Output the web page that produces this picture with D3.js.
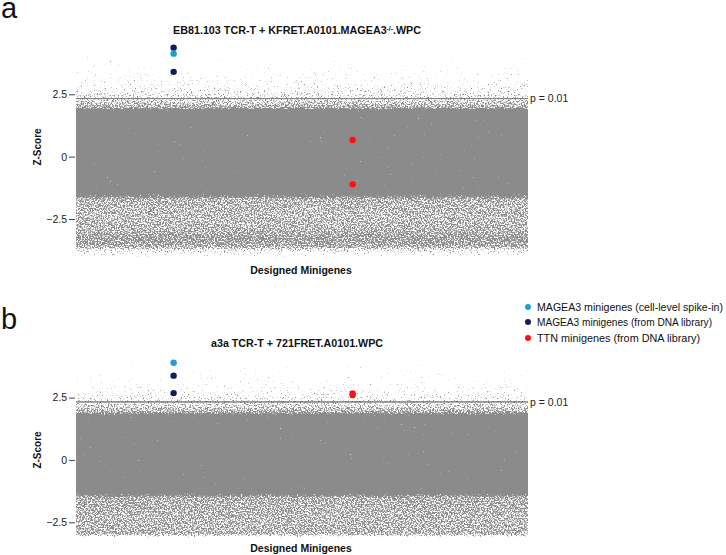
<!DOCTYPE html>
<html>
<head>
<meta charset="utf-8">
<script src="https://cdn.jsdelivr.net/npm/d3@7"></script>
<style>
  body { margin: 0; background: #fff; }
  text { font-family: "Liberation Sans", Arial, sans-serif; }
</style>
</head>
<body>
<script>
// minigene rank on the x axis (no tick labels in the figure)
const indexRange = [0, 1000];
const zTicks = [-2.5, 0, 2.5];
const thresholdZ = 2.326;            // one-sided p = 0.01
const thresholdLabel = "p = 0.01";
const magea3Index = 216;
const ttnIndex = 612;
const gapIndex = 577;                // thin empty column in the cloud

// panel a
const spikeA = [4.13];
const magea3DnaA = [4.37, 3.40];
const ttnA = [0.67, -1.11];
// coverage of the grey cloud (z, fraction of pixels covered)
const cloudA = [[4.45, 0], [4.1, 0.008], [3.6, 0.025], [3.0, 0.08], [2.6, 0.2], [2.3, 0.45],
  [2.1, 0.7], [1.95, 0.88], [1.85, 1], [-1.45, 1], [-1.7, 0.8], [-2.4, 0.74], [-2.9, 0.78],
  [-3.3, 0.9], [-3.6, 0.82], [-3.75, 0.35], [-4.0, 0.05], [-4.1, 0]];

// panel b
const spikeB = [3.90];
const magea3DnaB = [3.38, 2.68];
const ttnB = [2.67, 2.60];
const cloudB = [[4.1, 0], [3.8, 0.008], [3.3, 0.03], [2.8, 0.09], [2.35, 0.3], [2.1, 0.62],
  [1.9, 0.86], [1.78, 1], [-1.3, 1], [-1.5, 0.82], [-2.5, 0.76], [-2.95, 0.8],
  [-3.05, 0.35], [-3.2, 0]];

const legendLabels = ["MAGEA3 minigenes (cell-level spike-in)", "MAGEA3 minigenes (from DNA library)", "TTN minigenes (from DNA library)"];
const legendColors = ["#1b9fd6", "#0c1f5c", "#ff1010"];

const W = 726, H = 555;
const svg = d3.select("body").append("svg").attr("width", W).attr("height", H);
const defs = svg.append("defs");

// speckle filter: density (grey level) + noise -> scattered points
const sigma = 0.12;
function probit(p) {
  p = Math.min(Math.max(p, 1e-4), 1 - 1e-4);
  const q = p < 0.5 ? p : 1 - p;
  const t = Math.sqrt(-2 * Math.log(q));
  const x = t - (2.515517 + 0.802853 * t + 0.010328 * t * t) / (1 + 1.432788 * t + 0.189269 * t * t + 0.001308 * t * t * t);
  return p < 0.5 ? -x : x;
}
const level = f => f <= 0 ? 0 : Math.max(0, Math.min(1, 0.5 + sigma * probit(f)));

const flt = defs.append("filter").attr("id", "speckle")
  .attr("x", 0).attr("y", 0).attr("width", 1).attr("height", 1)
  .attr("color-interpolation-filters", "sRGB");
flt.append("feTurbulence").attr("type", "fractalNoise").attr("baseFrequency", 0.7)
  .attr("numOctaves", 2).attr("seed", 7).attr("result", "noise");
flt.append("feColorMatrix").attr("in", "noise").attr("type", "matrix")
  .attr("values", "1 0 0 0 0  1 0 0 0 0  1 0 0 0 0  0 0 0 0 1").attr("result", "n");
flt.append("feComposite").attr("in", "SourceGraphic").attr("in2", "n").attr("operator", "arithmetic")
  .attr("k1", 0).attr("k2", 1).attr("k3", 1).attr("k4", -1).attr("result", "v");
flt.append("feColorMatrix").attr("in", "v").attr("type", "matrix")
  .attr("values", "0 0 0 0 0.545  0 0 0 0 0.545  0 0 0 0 0.545  6 0 0 0 0");

const x = d3.scaleLinear().domain(indexRange).range([76, 528]);

const panels = [
  { id: "a", label: "a", dy: 0, title: ["EB81.103 TCR-T + KFRET.A0101.MAGEA3", "-/-", ".WPC"], titleW: 248,
    titleY: 30, axisTitleY: 270, cloud: cloudA, spike: spikeA, dna: magea3DnaA, ttn: ttnA, zCenter: 147, labelY: 18 },
  { id: "b", label: "b", dy: 303.3, title: ["a3a TCR-T + 721FRET.A0101.WPC"], titleW: 172,
    titleY: 343.3, axisTitleY: 548, cloud: cloudB, spike: spikeB, dna: magea3DnaB, ttn: ttnB, zCenter: 450, labelY: 329 }
];

panels.forEach(p => {
  const y = d3.scaleLinear().domain([-2.5, 2.5]).range([219 + p.dy, 94.3 + p.dy]);
  const g = svg.append("g");

  // cloud density gradient
  const zTop = p.cloud[0][0], zBot = p.cloud[p.cloud.length - 1][0];
  const grad = defs.append("linearGradient").attr("id", "dens" + p.id)
    .attr("gradientUnits", "userSpaceOnUse")
    .attr("x1", 0).attr("x2", 0).attr("y1", y(zTop)).attr("y2", y(zBot));
  grad.selectAll("stop").data(p.cloud).join("stop")
    .attr("offset", d => (y(d[0]) - y(zTop)) / (y(zBot) - y(zTop)))
    .attr("stop-color", d => { const v = Math.round(level(d[1]) * 255); return `rgb(${v},${v},${v})`; });

  g.append("rect")
    .attr("x", x(indexRange[0])).attr("width", x(indexRange[1]) - x(indexRange[0]))
    .attr("y", y(zTop)).attr("height", y(zBot) - y(zTop))
    .attr("fill", `url(#dens${p.id})`).attr("filter", "url(#speckle)");

  // empty column
  g.append("line")
    .attr("x1", x(gapIndex)).attr("x2", x(gapIndex))
    .attr("y1", y(-1.6)).attr("y2", y(zBot))
    .attr("stroke", "#fff").attr("stroke-opacity", 0.45).attr("stroke-width", 1);

  // threshold
  g.append("line")
    .attr("x1", x(indexRange[0])).attr("x2", x(indexRange[1]))
    .attr("y1", y(thresholdZ)).attr("y2", y(thresholdZ))
    .attr("stroke", p.id === "a" ? "#777" : "#444").attr("stroke-width", 1);
  g.append("text").attr("x", x(indexRange[1]) + 2).attr("y", y(thresholdZ)).attr("dy", "0.35em")
    .attr("font-size", 10.5).attr("fill", "#222").text(thresholdLabel);

  // highlighted minigenes
  const dots = [
    ...p.dna.map(z => ({ i: magea3Index, z, c: legendColors[1] })),
    ...p.spike.map(z => ({ i: magea3Index, z, c: legendColors[0] })),
    ...p.ttn.map(z => ({ i: ttnIndex, z, c: legendColors[2] }))
  ];
  g.selectAll("circle.hl").data(dots).join("circle").attr("class", "hl")
    .attr("cx", d => x(d.i)).attr("cy", d => y(d.z)).attr("r", 3.2).attr("fill", d => d.c);

  // y axis
  const ax = g.append("g").attr("transform", `translate(${x(indexRange[0]) - 1},0)`)
    .call(d3.axisLeft(y).tickValues(zTicks).tickSize(6).tickPadding(2).tickFormat(d3.format("")));
  ax.select(".domain").remove();
  ax.selectAll(".tick line").attr("stroke", "#444");
  ax.selectAll(".tick text").attr("font-size", 10.5).attr("fill", "#222")
    .attr("font-family", "Liberation Sans, Arial, sans-serif");

  // titles
  const t = g.append("text").attr("x", 297).attr("y", p.titleY)
    .attr("dy", "0.35em").attr("text-anchor", "middle").attr("font-size", 10.5).attr("font-weight", "bold")
    .attr("fill", "#111").attr("textLength", p.titleW).attr("lengthAdjust", "spacingAndGlyphs");
  t.append("tspan").text(p.title[0]);
  if (p.title.length > 1) {
    t.append("tspan").attr("font-size", 6.5).attr("dy", "-0.4em").text(p.title[1]);
    t.append("tspan").attr("dy", "0.25em").text(p.title[2]);
  }

  g.append("text").attr("x", 301).attr("y", p.axisTitleY).attr("dy", "0.35em")
    .attr("text-anchor", "middle").attr("font-size", 10.5).attr("font-weight", "bold").attr("fill", "#111")
    .text("Designed Minigenes");

  g.append("text").attr("transform", `translate(37,${p.zCenter}) rotate(-90)`).attr("dy", "0.35em")
    .attr("text-anchor", "middle").attr("font-size", 10).attr("font-weight", "bold").attr("fill", "#111")
    .text("Z-Score");

  g.append("text").attr("x", 1).attr("y", p.labelY)
    .attr("font-size", 29).attr("fill", "#111").text(p.label);
});

// legend
const lg = svg.append("g");
const legendY = [307, 322, 338];
const legendW = [186, 175, 163];
legendLabels.forEach((lab, i) => {
  lg.append("circle").attr("cx", 528).attr("cy", legendY[i]).attr("r", 3).attr("fill", legendColors[i]);
  lg.append("text").attr("x", 537).attr("y", legendY[i]).attr("dy", "0.35em")
    .attr("font-size", 10.2).attr("fill", "#111")
    .attr("textLength", legendW[i]).attr("lengthAdjust", "spacingAndGlyphs").text(lab);
});
</script>
</body>
</html>
